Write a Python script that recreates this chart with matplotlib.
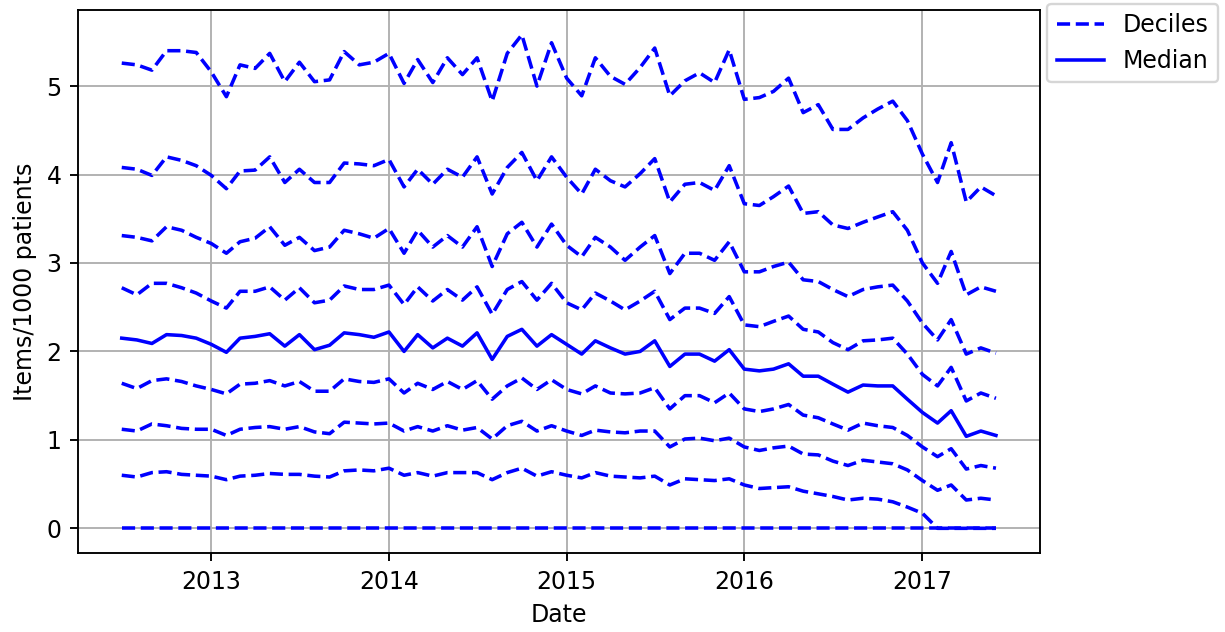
import numpy as np
import pandas as pd
import matplotlib
matplotlib.use("Agg")
import matplotlib.pyplot as plt
import matplotlib.dates as mdates

dates = pd.date_range("2012-07-01", periods=60, freq="MS")

p90 = [5.26, 5.24, 5.18, 5.40, 5.40, 5.38, 5.16, 4.88, 5.24, 5.20, 5.37, 5.05, 5.27, 5.05, 5.07, 5.39, 5.24, 5.27, 5.37, 5.03,
       5.30, 5.04, 5.32, 5.13, 5.32, 4.83, 5.37, 5.58, 5.00, 5.49, 5.09, 4.89, 5.32, 5.11, 5.02, 5.21, 5.43, 4.89, 5.06, 5.15,
       5.04, 5.41, 4.85, 4.87, 4.94, 5.09, 4.70, 4.79, 4.51, 4.51, 4.64, 4.74, 4.83, 4.61, 4.23, 3.91, 4.36, 3.69, 3.86, 3.76]
p80 = [4.08, 4.06, 3.99, 4.20, 4.16, 4.10, 3.99, 3.84, 4.04, 4.05, 4.20, 3.91, 4.06, 3.91, 3.91, 4.13, 4.12, 4.10, 4.17, 3.86,
       4.06, 3.89, 4.06, 3.97, 4.20, 3.78, 4.08, 4.25, 3.93, 4.20, 3.97, 3.78, 4.06, 3.93, 3.86, 4.01, 4.18, 3.69, 3.89, 3.91,
       3.82, 4.10, 3.67, 3.65, 3.75, 3.87, 3.56, 3.58, 3.43, 3.39, 3.46, 3.52, 3.58, 3.37, 3.00, 2.77, 3.13, 2.64, 2.73, 2.68]
p70 = [3.31, 3.29, 3.25, 3.41, 3.37, 3.29, 3.22, 3.11, 3.24, 3.28, 3.41, 3.20, 3.29, 3.14, 3.18, 3.37, 3.33, 3.28, 3.39, 3.11,
       3.37, 3.18, 3.31, 3.18, 3.41, 2.96, 3.33, 3.46, 3.18, 3.44, 3.20, 3.07, 3.29, 3.18, 3.03, 3.18, 3.31, 2.88, 3.11, 3.11,
       3.03, 3.24, 2.90, 2.90, 2.96, 3.01, 2.81, 2.79, 2.70, 2.62, 2.70, 2.73, 2.75, 2.57, 2.32, 2.13, 2.36, 1.97, 2.04, 1.98]
p60 = [2.72, 2.64, 2.77, 2.77, 2.72, 2.66, 2.57, 2.49, 2.68, 2.68, 2.73, 2.58, 2.72, 2.55, 2.58, 2.74, 2.70, 2.70, 2.75, 2.53,
       2.73, 2.57, 2.70, 2.58, 2.73, 2.42, 2.70, 2.79, 2.58, 2.77, 2.55, 2.47, 2.66, 2.57, 2.47, 2.57, 2.68, 2.36, 2.49, 2.49,
       2.43, 2.62, 2.30, 2.28, 2.34, 2.40, 2.25, 2.22, 2.10, 2.02, 2.12, 2.13, 2.15, 1.97, 1.74, 1.61, 1.82, 1.44, 1.53, 1.47]
median = [2.15, 2.13, 2.09, 2.19, 2.18, 2.15, 2.08, 1.99, 2.15, 2.17, 2.20, 2.06, 2.19, 2.02, 2.07, 2.21, 2.19, 2.16, 2.22, 2.00,
          2.19, 2.04, 2.15, 2.06, 2.21, 1.91, 2.17, 2.25, 2.06, 2.19, 2.08, 1.97, 2.12, 2.04, 1.97, 2.00, 2.12, 1.83, 1.97, 1.97,
          1.89, 2.02, 1.80, 1.78, 1.80, 1.86, 1.72, 1.72, 1.63, 1.54, 1.62, 1.61, 1.61, 1.46, 1.31, 1.19, 1.33, 1.04, 1.10, 1.05]
p40 = [1.64, 1.58, 1.67, 1.69, 1.66, 1.61, 1.57, 1.52, 1.63, 1.64, 1.67, 1.61, 1.66, 1.55, 1.55, 1.69, 1.66, 1.65, 1.69, 1.53,
       1.64, 1.57, 1.66, 1.57, 1.67, 1.46, 1.61, 1.70, 1.57, 1.68, 1.57, 1.52, 1.61, 1.53, 1.52, 1.53, 1.59, 1.35, 1.50, 1.50,
       1.42, 1.53, 1.35, 1.32, 1.35, 1.40, 1.28, 1.25, 1.18, 1.11, 1.19, 1.16, 1.14, 1.05, 0.92, 0.81, 0.90, 0.67, 0.71, 0.68]
p30 = [1.12, 1.10, 1.18, 1.16, 1.13, 1.12, 1.12, 1.05, 1.12, 1.14, 1.15, 1.12, 1.15, 1.09, 1.07, 1.20, 1.19, 1.18, 1.19, 1.10,
       1.15, 1.10, 1.16, 1.11, 1.14, 1.01, 1.16, 1.21, 1.10, 1.16, 1.10, 1.05, 1.11, 1.09, 1.08, 1.10, 1.10, 0.92, 1.01, 1.02,
       0.99, 1.02, 0.92, 0.88, 0.91, 0.93, 0.84, 0.83, 0.76, 0.71, 0.77, 0.75, 0.73, 0.66, 0.54, 0.43, 0.49, 0.32, 0.34, 0.32]
p20 = [0.60, 0.58, 0.63, 0.64, 0.61, 0.60, 0.59, 0.55, 0.59, 0.60, 0.62, 0.61, 0.61, 0.59, 0.58, 0.65, 0.66, 0.65, 0.68, 0.60,
       0.63, 0.59, 0.63, 0.63, 0.63, 0.55, 0.63, 0.68, 0.59, 0.64, 0.60, 0.57, 0.63, 0.59, 0.58, 0.57, 0.59, 0.49, 0.56, 0.55,
       0.54, 0.56, 0.49, 0.45, 0.46, 0.47, 0.42, 0.39, 0.36, 0.32, 0.34, 0.33, 0.30, 0.24, 0.17, 0.0, 0.0, 0.0, 0.0, 0.0]
p10 = [0.0] * 60

deciles = [p10, p20, p30, p40, p60, p70, p80, p90]

# drawn at 170 dpi so default sizes match the reference scale
fig = plt.figure(figsize=(1225 / 170, 632 / 170), dpi=170)
ax = fig.add_axes([0.0637, 0.125, 0.785, 0.859])

for i, d in enumerate(deciles):
    ax.plot(dates, d, color="blue", ls="--", label="Deciles" if i == 0 else None)
ax.plot(dates, median, color="blue", ls="-", label="Median")

ax.xaxis.set_major_locator(mdates.YearLocator())
ax.xaxis.set_major_formatter(mdates.DateFormatter("%Y"))
ax.set_xlabel("Date")
ax.set_ylabel("Items/1000 patients")
ax.grid(True)

ax.legend(loc="upper left", bbox_to_anchor=(1.008, 1.012), borderaxespad=0)

fig.savefig("out.png", dpi=170)
